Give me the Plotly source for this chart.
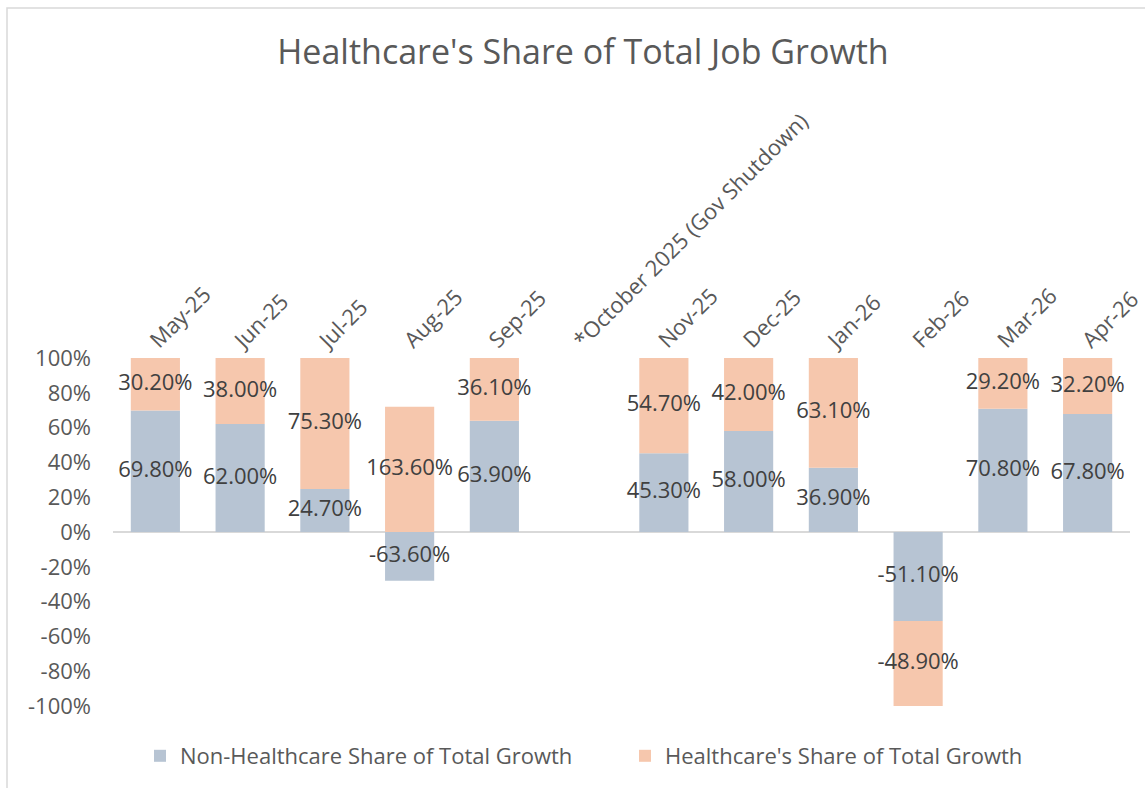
import plotly.graph_objects as go

categories = ["May-25", "Jun-25", "Jul-25", "Aug-25", "Sep-25", "*October 2025 (Gov Shutdown)",
              "Nov-25", "Dec-25", "Jan-26", "Feb-26", "Mar-26", "Apr-26"]
non_healthcare = [69.8, 62.0, 24.7, -63.6, 63.9, None, 45.3, 58.0, 36.9, -51.1, 70.8, 67.8]
healthcare = [30.2, 38.0, 75.3, 163.6, 36.1, None, 54.7, 42.0, 63.1, -48.9, 29.2, 32.2]
y_ticks = [-100, -80, -60, -40, -20, 0, 20, 40, 60, 80, 100]

FONT = "Open Sans"
GREY = "#595959"
NON_COLOR = "#b7c4d3"
HC_COLOR = "#f6c7ad"

# 100% stacked: each segment is its share of the summed absolute values
non_share, hc_share, non_mid, hc_mid, non_txt, hc_txt = [], [], [], [], [], []
for n, h in zip(non_healthcare, healthcare):
    if n is None:
        non_share.append(None); hc_share.append(None)
        non_mid.append(None); hc_mid.append(None)
        non_txt.append(""); hc_txt.append("")
        continue
    tot = abs(n) + abs(h)
    ns, hs = n / tot * 100, h / tot * 100
    non_share.append(ns); hc_share.append(hs)
    non_mid.append(ns / 2)
    hc_mid.append(ns + hs / 2 if (ns >= 0) == (hs >= 0) else hs / 2)
    non_txt.append(f"{n:.2f}%"); hc_txt.append(f"{h:.2f}%")

fig = go.Figure()
fig.add_trace(go.Bar(x=categories, y=non_share, name="Non-Healthcare Share of Total Growth",
                     marker=dict(color=NON_COLOR, line=dict(width=0)), hoverinfo="skip"))
fig.add_trace(go.Bar(x=categories, y=hc_share, name="Healthcare's Share of Total Growth",
                     marker=dict(color=HC_COLOR, line=dict(width=0)), hoverinfo="skip"))
fig.add_trace(go.Scatter(x=categories, y=non_mid, mode="text", text=non_txt, showlegend=False,
                         textfont=dict(family=FONT, size=22, color="#404040"), hoverinfo="skip"))
fig.add_trace(go.Scatter(x=categories, y=hc_mid, mode="text", text=hc_txt, showlegend=False,
                         textfont=dict(family=FONT, size=22, color="#404040"), hoverinfo="skip"))

L, R, T, B = 113, 15, 358, 82
W, H = 1145, 788
pw, ph = W - L - R, H - T - B

fig.update_layout(
    width=W, height=H,
    margin=dict(l=L, r=R, t=T, b=B, autoexpand=False),
    barmode="relative",
    bargap=0.42,
    plot_bgcolor="white", paper_bgcolor="white",
    font=dict(family=FONT, color=GREY),
    title=dict(text="Healthcare's Share of Total Job Growth", x=(583 - L) / pw, xanchor="center",
               xref="paper", y=1 - 52 / H, yanchor="middle",
               font=dict(family=FONT, size=34, color=GREY)),
    xaxis=dict(side="top", tickangle=-45, showgrid=False, showline=False, ticks="",
               automargin=False, range=[-0.5, len(categories) - 0.5], ticklabelshift=-4,
               tickfont=dict(family=FONT, size=22, color=GREY), fixedrange=True),
    yaxis=dict(range=[-100, 100], tickvals=y_ticks, ticktext=[f"{v}%" for v in y_ticks],
               showgrid=False, zeroline=True, zerolinecolor="#d9d9d9", zerolinewidth=2,
               showline=False, ticks="", automargin=False,
               tickfont=dict(family=FONT, size=22, color=GREY),
               ticklabelstandoff=21),
    legend=dict(orientation="h", x=(140 - L) / pw, xanchor="left", y=-(756 - (H - B)) / ph,
                yanchor="middle",
                font=dict(family=FONT, size=22, color=GREY), itemwidth=30,
                entrywidth=440, entrywidthmode="pixels", bgcolor="rgba(0,0,0,0)"),
    shapes=[dict(type="rect", xref="paper", yref="paper",
                 x0=(7 - L) / pw, x1=(W + 5 - L) / pw,
                 y0=-(H + 5 - (H - B)) / ph, y1=((H - B) - 8) / ph,
                 line=dict(color="#d9d9d9", width=1.5), fillcolor="rgba(0,0,0,0)", layer="below")],
)

fig.write_html("out.html")
